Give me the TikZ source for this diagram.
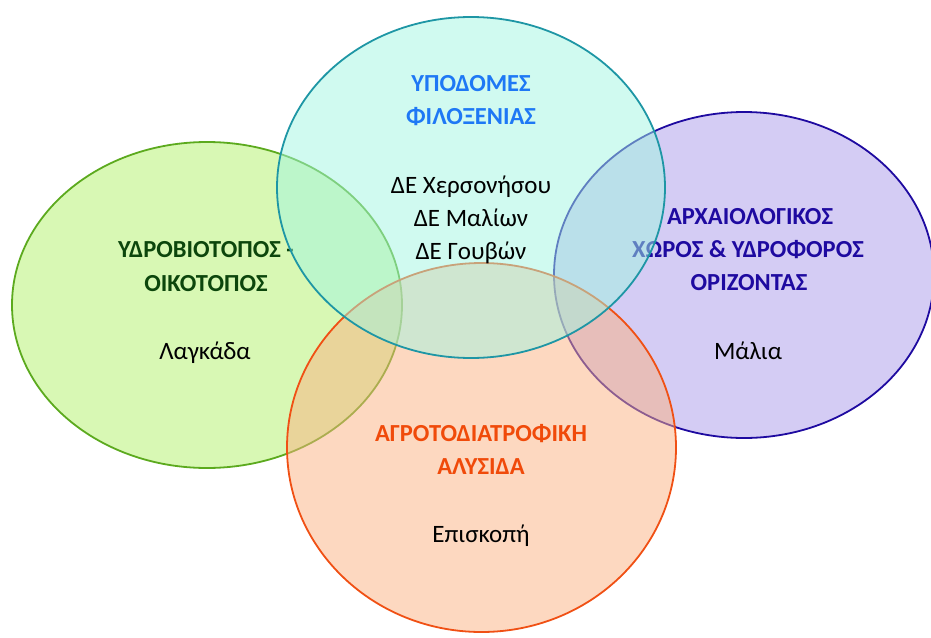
\documentclass[tikz,border=0pt]{standalone}
\usepackage{fontspec}
\setmainfont{Carlito}
\definecolor{gfill}{RGB}{216,248,180}
\definecolor{gline}{RGB}{92,170,30}
\definecolor{gtext}{RGB}{12,70,12}
\definecolor{cfill}{RGB}{161,245,225}
\definecolor{cline}{RGB}{30,150,165}
\definecolor{ctext}{RGB}{30,120,245}
\definecolor{pfill}{RGB}{212,204,244}
\definecolor{pline}{RGB}{30,10,160}
\definecolor{ptext}{RGB}{30,10,160}
\definecolor{ofill}{RGB}{251,177,129}
\definecolor{oline}{RGB}{240,80,20}
\definecolor{otext}{RGB}{240,74,10}
\tikzset{
  circ/.style={line width=1.8pt},
  head/.style={font=\fontsize{24.5}{33}\selectfont\bfseries, align=center, inner sep=0pt},
  body/.style={font=\fontsize{25}{33}\selectfont, align=center, inner sep=0pt, text=black}
}
\begin{document}
\begin{tikzpicture}[x=1pt,y=-1pt]
\useasboundingbox (0,0) rectangle (931,637);
% green
\draw[circ, draw=gline, fill=gfill] (207,305) ellipse [x radius=195, y radius=163];
\node[head, text=gtext, anchor=base] (gh1) at (206,257) {ΥΔΡΟΒΙΟΤΟΠΟΣ -};
\node[head, text=gtext, anchor=base] (gh2) at (206,291) {ΟΙΚΟΤΟΠΟΣ};
\node[body, anchor=base] (gb) at (205,359) {Λαγκάδα};
% purple
\draw[circ, draw=pline, fill=pfill] (744,275) ellipse [x radius=190, y radius=163];
\node[head, text=ptext, anchor=base] (ph1) at (750,224) {ΑΡΧΑΙΟΛΟΓΙΚΟΣ};
\node[head, text=ptext, anchor=base] (ph2) at (748,257) {ΧΩΡΟΣ \& ΥΔΡΟΦΟΡΟΣ};
\node[head, text=ptext, anchor=base] (ph3) at (749,290) {ΟΡΙΖΟΝΤΑΣ};
\node[body, anchor=base] (pb) at (748,359) {Μάλια};
% orange
\draw[circ, draw=oline, fill=ofill, fill opacity=0.5] (481.5,447.5) ellipse [x radius=194.5, y radius=184.5];
\node[head, text=otext, anchor=base] (oh1) at (481,441) {ΑΓΡΟΤΟΔΙΑΤΡΟΦΙΚΗ};
\node[head, text=otext, anchor=base] (oh2) at (481,474) {ΑΛΥΣΙΔΑ};
\node[body, anchor=base] (ob) at (481,542) {Επισκοπή};
% cyan
\draw[circ, draw=cline, fill=cfill, fill opacity=0.5] (471,187.5) ellipse [x radius=194, y radius=170.5];
\node[head, text=ctext, anchor=base] (ch1) at (471,91) {ΥΠΟΔΟΜΕΣ};
\node[head, text=ctext, anchor=base] (ch2) at (471,124) {ΦΙΛΟΞΕΝΙΑΣ};
\node[body, anchor=base] (cb1) at (471,193) {ΔΕ Χερσονήσου};
\node[body, anchor=base] (cb2) at (471,226) {ΔΕ Μαλίων};
\node[body, anchor=base] (cb3) at (471,259) {ΔΕ Γουβών};
\end{tikzpicture}
\end{document}
